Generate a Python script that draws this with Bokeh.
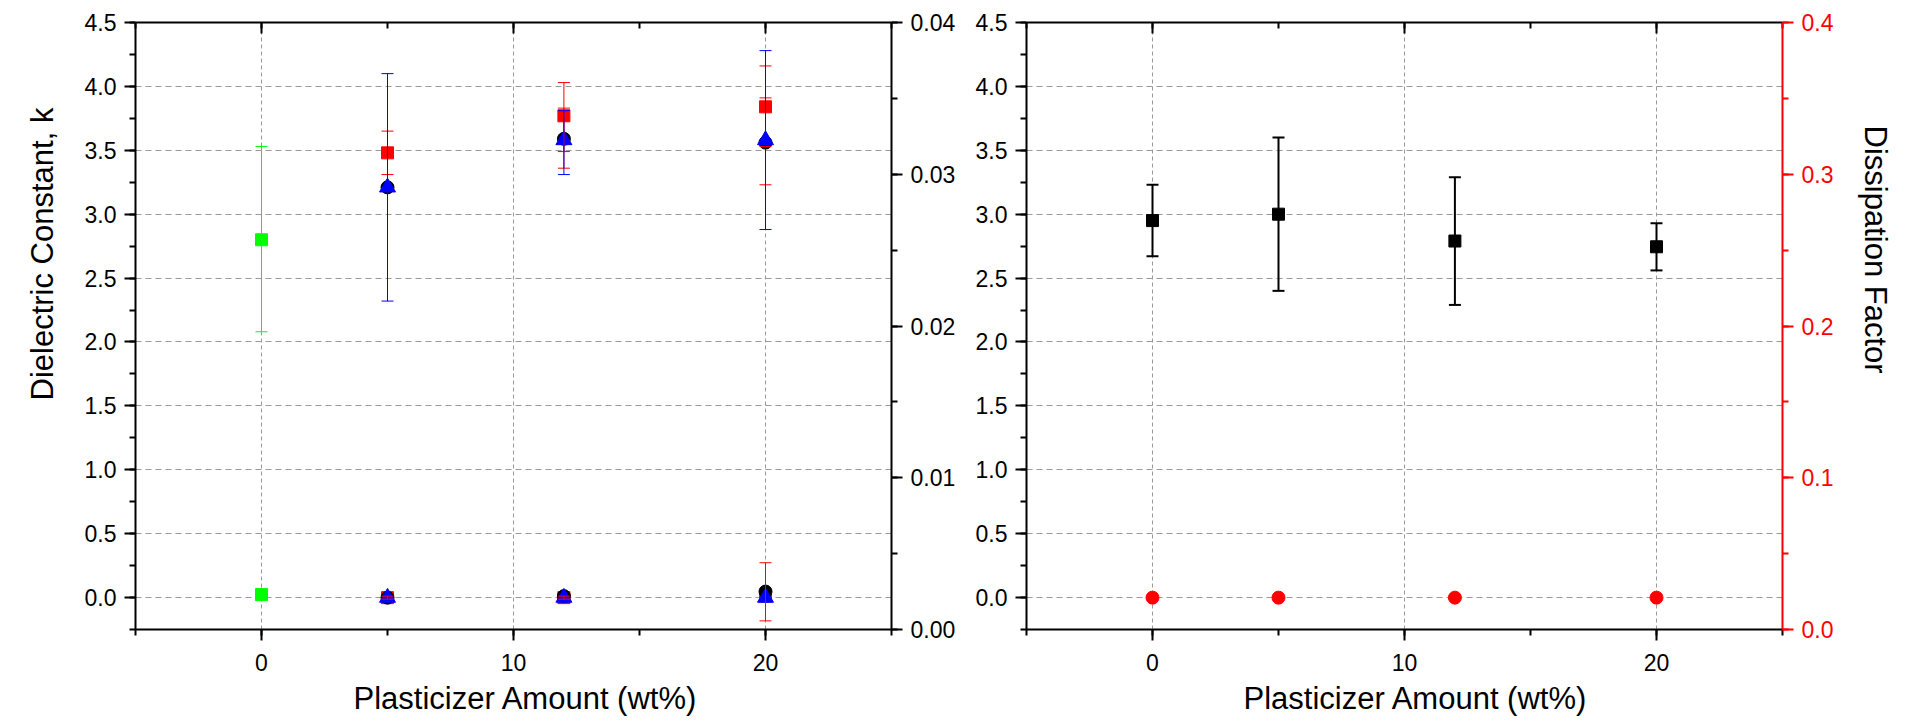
import math
from bokeh.plotting import figure
from bokeh.models import (LinearAxis, Range1d, SingleIntervalTicker, NumeralTickFormatter,
                          Whisker, TeeHead, ColumnDataSource, Title, CustomJSTickFormatter)
from bokeh.layouts import row
from bokeh.embed import file_html
from bokeh.resources import INLINE

FONT = "Liberation Sans"

# ---------------- data ----------------
# left panel: dielectric constant (left axis) and dissipation factor (right axis, 0-0.04)
x_green = [0]
green_k = [2.80]
green_k_lo = [2.08]
green_k_hi = [3.53]
green_df = [0.0023]

x_samples = [5, 12, 20]
red_k = [3.48, 3.77, 3.84]
red_k_lo = [3.31, 3.36, 3.23]
red_k_hi = [3.65, 4.03, 4.16]
red2_x = [12, 20]
red2_k_lo = [3.49, 3.53]
red2_k_hi = [3.83, 3.91]
black_k = [3.21, 3.59, 3.56]
blue_k = [3.21, 3.58, 3.58]
blue_k_lo = [2.32, 3.31, 2.88]
blue_k_hi = [4.10, 3.81, 4.28]

red_df = [0.0021, 0.0021, 0.0022]
red_df_lo = [0.0020, 0.0020, 0.00057]
red_df_hi = [0.0022, 0.0022, 0.0044]
black_df = [0.0021, 0.0022, 0.0025]
blue_df = [0.0021, 0.0021, 0.0021]

# right panel
x_all = [0, 5, 12, 20]
avg_k = [2.95, 3.00, 2.79, 2.745]
avg_k_err = [0.28, 0.60, 0.50, 0.185]
avg_df = [0.021, 0.021, 0.021, 0.021]

x_label = "Plasticizer Amount (wt%)"
y_label = "Dielectric Constant, k"
y2_label = "Dissipation Factor"

H = 723


def style_axis(ax, color="black"):
    ax.axis_line_color = color
    ax.axis_line_width = 2
    ax.major_tick_line_color = color
    ax.major_tick_line_width = 2
    ax.minor_tick_line_color = color
    ax.minor_tick_line_width = 2
    ax.major_tick_out = 11
    ax.major_tick_in = 0
    ax.minor_tick_out = 6
    ax.minor_tick_in = 0
    ax.major_label_text_color = color
    ax.major_label_text_font = FONT
    ax.major_label_text_font_size = "23px"
    ax.major_label_standoff = 8
    ax.axis_label = None


def base_fig(width, bl, br, extra_name, extra_range, extra_int, extra_fmt, extra_color):
    p = figure(width=width, height=H, x_range=Range1d(-5, 25), y_range=Range1d(-0.25, 4.5),
               output_backend="svg", toolbar_location=None,
               min_border_left=bl, min_border_right=br, min_border_top=22,
               min_border_bottom=H - 22 - 607)
    p.outline_line_color = None
    p.background_fill_color = "white"
    p.border_fill_color = "white"
    p.extra_y_ranges = {extra_name: Range1d(*extra_range)}
    p.xaxis.ticker = SingleIntervalTicker(interval=10, num_minor_ticks=2)
    p.yaxis.ticker = SingleIntervalTicker(interval=0.5, num_minor_ticks=2)
    p.yaxis.formatter = NumeralTickFormatter(format="0.0")
    for ax in p.xaxis + p.yaxis:
        style_axis(ax)
    p.xaxis.major_label_standoff = 13
    right = LinearAxis(y_range_name=extra_name,
                       ticker=SingleIntervalTicker(interval=extra_int, num_minor_ticks=2),
                       formatter=NumeralTickFormatter(format=extra_fmt))
    style_axis(right, extra_color)
    p.add_layout(right, "right")
    top = LinearAxis(ticker=SingleIntervalTicker(interval=10, num_minor_ticks=2),
                     formatter=CustomJSTickFormatter(code="return ''"))
    style_axis(top)
    top.major_tick_out = 0
    top.major_tick_in = 11
    top.minor_tick_out = 0
    top.minor_tick_in = 6
    top.major_label_standoff = 0
    p.add_layout(top, "above")
    p.xgrid.grid_line_color = "#999999"
    p.xgrid.grid_line_dash = "4 3"
    p.xgrid.grid_line_width = 1
    p.ygrid.grid_line_color = "#999999"
    p.ygrid.grid_line_dash = "6 4"
    p.ygrid.grid_line_width = 1
    return p


def whisk(p, x, lo, hi, color, lw=1, rng=None):
    src = ColumnDataSource(dict(x=x, lo=lo, hi=hi))
    kw = {}
    if rng:
        kw["y_range_name"] = rng
    w = Whisker(source=src, base="x", lower="lo", upper="hi", line_color=color, line_width=lw,
                upper_head=TeeHead(size=12, line_color=color, line_width=lw),
                lower_head=TeeHead(size=12, line_color=color, line_width=lw),
                level="annotation", **kw)
    p.add_layout(w)


def title(p, text, side, offset, standoff=10):
    p.add_layout(Title(text=text, align="left", offset=offset, standoff=standoff,
                       text_font=FONT, text_font_size="31px", text_font_style="normal",
                       text_color="black"), side)


# ---------------- left panel ----------------
p1 = base_fig(965, 134, 74, "df", (0, 0.04), 0.01, "0.00", "black")

p1.scatter(x_green, green_k, marker="square", size=12, color="#00ff00")
p1.scatter(x_green, green_df, marker="square", size=12, color="#00ff00", y_range_name="df")
p1.scatter(x_samples, red_k, marker="square", size=12, color="#ff0000")
p1.scatter(x_samples, red_df, marker="square", size=12, color="#ff0000", y_range_name="df")
p1.scatter(x_samples, black_k, marker="circle", size=13, color="black")
p1.scatter(x_samples, black_df, marker="circle", size=13, color="black", y_range_name="df")
p1.scatter(x_samples, blue_k, marker="triangle", size=16, color="#0000ff")
p1.scatter(x_samples, blue_df, marker="triangle", size=16, color="#0000ff", y_range_name="df")

whisk(p1, x_green, green_k_lo, green_k_hi, "#00ff00")
whisk(p1, x_samples, red_k_lo, red_k_hi, "#ff0000")
whisk(p1, red2_x, red2_k_lo, red2_k_hi, "#ff0000")
whisk(p1, x_samples, red_df_lo, red_df_hi, "#ff0000", rng="df")
whisk(p1, x_samples, blue_k_lo, blue_k_hi, "#0000ff")

title(p1, y_label, "left", 229, standoff=44)
title(p1, x_label, "below", 218, standoff=10)

# ---------------- right panel ----------------
p2 = base_fig(950, 61, 132, "df2", (0, 0.4), 0.1, "0.0", "#ff0000")

avg_lo = [v - e for v, e in zip(avg_k, avg_k_err)]
avg_hi = [v + e for v, e in zip(avg_k, avg_k_err)]
whisk(p2, x_all, avg_lo, avg_hi, "black", lw=2)
p2.scatter(x_all, avg_k, marker="square", size=12, color="black")
p2.scatter(x_all, avg_df, marker="circle", size=13, color="#ff0000", y_range_name="df2")

title(p2, x_label, "below", 217, standoff=10)
title(p2, y2_label, "right", 103, standoff=42)

layout = row(p1, p2)
open("out.html", "w").write(file_html(layout, INLINE))
